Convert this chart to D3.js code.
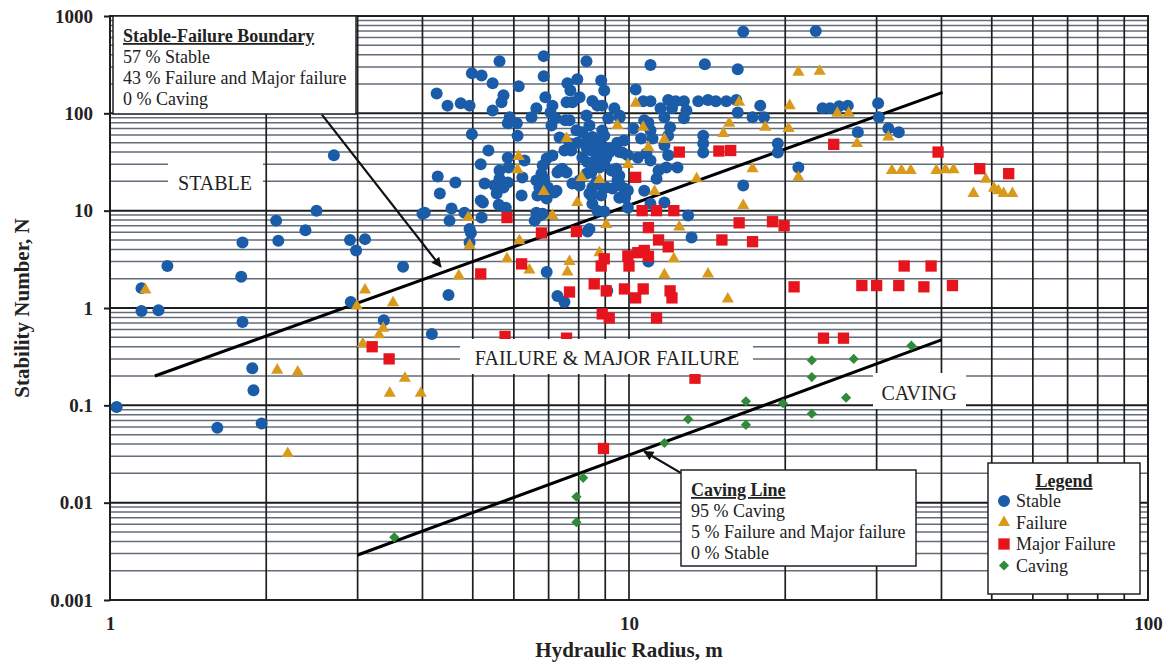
<!DOCTYPE html>
<html>
<head>
<meta charset="utf-8">
<script src="https://cdnjs.cloudflare.com/ajax/libs/d3/7.8.5/d3.min.js"></script>
<style>
  body { margin: 0; background: #fff; }
  svg { display: block; font-family: "Liberation Serif", "Times New Roman", serif; }
</style>
</head>
<body>
<div id="chart"></div>
<script>
// Hydraulic radius (m), stability number N
var stable = [
  [1.03,0.096],[1.15,1.6],[1.29,2.7],[1.15,0.93],[1.24,0.95],[1.61,0.059],[1.8,4.7],[1.79,2.1],
  [1.8,0.72],[1.88,0.24],[1.89,0.143],[1.96,0.065],[2.11,4.9],[2.09,7.9],[2.38,6.3],[2.5,10],
  [2.7,37],[2.9,5.0],[2.98,3.9],[3.1,5.1],[2.91,1.15],[3.37,0.75],[3.67,2.65],[4.17,0.54],
  [4.0,9.3],[4.49,1.36],
  [4.26,160],[4.47,120],[4.74,127],[4.93,120],[4.98,258],[5.2,245],[5.63,343],[5.46,204],
  [6.13,190],[5.73,153],[5.68,130],[5.46,107],[6.85,387],[6.85,240],[6.9,146],[6.63,113],
  [6.49,91],[5.89,91],[5.84,79],[6.08,79],[6.1,59],[4.98,61],[5.36,41.5],[5.18,30],[5.63,25.8],
  [5.84,35],[5.86,27.8],[6.29,32.7],[6.23,21.9],[5.27,19],[5.51,18.1],[5.63,21.3],[5.84,19.5],
  [5.56,15],[5.18,12.7],[5.23,12.1],[5.61,11.5],[5.79,10.7],[6.21,14.3],[4.28,22.4],[4.63,19.5],
  [4.32,15],[4.04,9.5],[4.55,10.5],[4.51,7.9],[4.82,9.5],[4.93,6.5],[5.2,8.5],[5.73,17.3],
  [7.12,120],[7.06,102],[7.22,89],[7.09,75],[7.54,85],[7.68,85],[7.61,204],[7.95,224],[7.71,172],
  [8.03,146],[7.58,130],[7.78,130],[8.28,343],[8.84,218],[8.96,172],[8.5,134],[8.69,120],
  [9.37,113],[9.58,95],[9.12,89],[8.28,95],[8.39,75],[8.13,64],[7.92,67],[8.5,57],[8.77,52.6],
  [8.96,59],[9.49,50],[9.79,52.6],[9.7,39.6],[9.16,43.5],[8.84,39.6],[8.65,34.3],[8.28,44.6],
  [7.95,50],[7.68,49],[7.35,56.6],[6.94,34.3],[6.82,29.1],[7.12,36.9],[7.44,27],[7.58,24.6],
  [7.28,24.6],[6.78,24],[6.63,20.4],[6.72,17.3],[6.98,17.3],[7.18,15.4],[6.66,14.3],[6.94,13.3],
  [7.78,19],[8.03,20.4],[8.28,24],[8.46,24.6],[8.77,27.8],[8.96,30.6],[9.25,25.8],[9.49,24],
  [9.58,19],[9.29,16.9],[9.04,17.3],[8.5,17.3],[8.39,15],[8.5,11.8],[8.84,14.3],[9.58,13.6],
  [9.95,10.7],[8.96,9.8],[8.69,10],[8.39,6.5],[6.63,9.5],[6.82,9.3],[6.58,7.9],
  [6.86,21.3],[6.74,19],[7.03,15.4],[7.25,16],[6.74,8.9],[7.35,25.8],[7.51,41.5],[7.74,41.5],
  [8.13,35.2],[8.32,31.4],[8.5,27],[8.46,41.5],[8.32,52.6],[8.65,50],[9.04,35.2],[9.16,39.6],
  [8.03,18.1],[8.65,19.5],[8.46,14.3],[9.45,27],[9.58,22.9],[9.95,16.1],[9.83,13.6],
  [4.96,5.9],[4.93,4.7],[8.32,6.1],[6.94,2.35],[7.28,1.33],[7.51,1.15],[13.2,5.3],[10.9,3.0],
  [9.08,1.5],
  [16.6,690],[22.9,700],[11.0,313],[14.0,320],[16.2,284],[10.3,176],[10.65,133],[11.0,133],
  [11.9,137],[12.3,133],[12.76,133],[13.6,133],[14.2,137],[14.7,133],[15.4,133],[16.1,137],
  [11.5,113],[12.1,113],[12.9,107],[11.7,91],[12.76,89],[16.2,102],[17.3,91],[17.9,120],
  [18.2,91],[9.6,91],[8.88,120],[8.88,66.7],[10.2,70],[10.7,85],[10.9,80],[11.0,67],[10.55,55],
  [11.1,55],[12.0,72],[11.9,59],[11.7,47],[9.58,40],[9.04,43.5],[8.88,32.7],[9.95,37],[10.4,35],
  [10.8,38.7],[11.0,32.7],[11.9,37],[12.4,27.8],[11.8,27.8],[11.4,25.8],[11.3,21.3],[9.45,24.6],
  [9.5,20.4],[9.58,18.1],[9.8,16.9],[8.88,18.1],[10.7,16],[13.9,59],[13.9,49],[13.9,39.6],
  [19.35,49],[19.35,39.6],[21.2,27.8],[16.6,18.1],[11.7,12.1],[11.0,11.8],[13.0,8.9],
  [23.6,113],[24.4,113],[25.4,118],[26.4,120],[30.2,127],[30.3,91],[31.6,70],[33.1,64],[27.6,64]
];

var failure = [
  [1.17,1.53],[2.1,0.23],[2.3,0.22],[2.2,0.032],[3.1,1.53],[3.51,1.13],[2.99,1.05],[3.36,0.62],
  [3.3,0.53],[3.07,0.43],[3.7,0.19],[3.46,0.133],[3.97,0.133],[4.7,2.14],[4.93,4.4],[6.15,4.9],
  [5.82,3.2],[6.43,2.46],[7.68,3.0],[7.61,2.35],[8.77,3.7],[11.7,2.2],[12.2,3.2],[14.2,2.24],
  [15.5,1.24],[12.5,6.8],[6.13,36],[6.1,26.4],[6.85,15.7],[7.58,55],[8.1,21.9],[8.77,20.9],
  [7.95,12.1],[7.12,8.9],[9.04,7.2],[9.5,75],[9.95,29.8],[10.3,127],[10.65,72],[11.7,54],
  [10.9,44.6],[16.3,130],[15.6,79],[15.2,62],[18.3,72],[20.4,120],[20.3,70],[21.2,265],
  [23.3,271],[25.2,100],[26.5,100],[27.5,49],[31.6,57],[17.3,27],[21.2,22],[16.6,11.3],
  [13.5,21.3],[11.2,15.7],[32.1,25.8],[33.5,25.8],[34.9,25.8],[39.1,25.8],[40.7,26.4],
  [42.2,26.4],[46.1,15],[48.7,21],[51.5,16],[52.7,15],[54.8,15],[50.5,17],[4.9,8.5]
];

var majorFailure = [
  [3.2,0.4],[3.45,0.3],[6.78,5.9],[7.92,6.1],[5.18,2.24],[6.21,2.84],[7.68,1.46],[5.82,8.5],
  [5.77,0.51],[7.58,0.49],[8.96,3.2],[8.84,2.7],[8.57,1.77],[9.04,1.5],[8.88,0.87],[9.16,0.79],
  [9.95,3.43],[10.0,2.7],[10.4,3.7],[10.7,3.9],[10.9,3.4],[9.8,1.57],[10.3,1.27],[10.65,1.57],
  [11.4,5.0],[11.9,4.25],[12.0,1.5],[12.1,1.27],[11.3,0.79],[13.4,0.19],[10.3,22],[10.6,10],
  [11.3,10],[12.2,10],[12.5,40],[14.9,41],[15.7,41.5],[24.8,48],[16.3,7.5],[18.9,7.7],
  [19.9,7.0],[15.1,5.0],[17.3,4.8],[10.9,6.7],[20.8,1.65],[28.1,1.7],[30.0,1.7],[33.1,1.7],
  [37.0,1.65],[42.0,1.7],[33.9,2.7],[38.2,2.7],[23.7,0.49],[25.9,0.49],[8.93,0.036],
  [39.4,40],[47.4,27],[53.9,24]
];

var caving = [
  [3.53,0.0044],[7.92,0.0115],[8.16,0.018],[7.92,0.0063],[11.7,0.041],[13.0,0.072],[16.8,0.11],
  [16.8,0.063],[19.8,0.105],[22.5,0.082],[22.5,0.195],[22.5,0.29],[27.1,0.3],[26.2,0.12],
  [35.0,0.41]
];

// design lines
var boundaryLine = [[1.22, 0.2], [40.2, 164]];
var cavingLine = [[3.0, 0.0029], [40, 0.47]];

// arrow annotations (from, to)
var boundaryArrow = [[2.56, 97], [4.34, 2.65]];
var cavingArrow = [[12.65, 0.0199], [10.7, 0.0336]];

var xTicks = [1, 10, 100];
var xTickLabels = ["1", "10", "100"];
var yTicks = [0.001, 0.01, 0.1, 1, 10, 100, 1000];
var yTickLabels = ["0.001", "0.01", "0.1", "1", "10", "100", "1000"];

var seriesNames = ["Stable", "Failure", "Major Failure", "Caving"];
var seriesColors = ["#1b5ca8", "#d99a1c", "#e6141c", "#2f8b3a"];

var boundaryText = ["57 % Stable", "43 % Failure and Major failure", "0 % Caving"];
var cavingText = ["95 % Caving", "5 % Failure and Major failure", "0 % Stable"];

var svgWidth = 1170;
var svgHeight = 663;

var margin = {
  top: 16,
  right: 22,
  bottom: 63,
  left: 110
};

var width = svgWidth - margin.left - margin.right;
var height = svgHeight - margin.top - margin.bottom;

var svg = d3.select("#chart")
  .append("svg")
  .attr("width", svgWidth)
  .attr("height", svgHeight);

svg.append("rect")
  .attr("width", svgWidth)
  .attr("height", svgHeight)
  .attr("fill", "#fff");

var chartGroup = svg.append("g")
  .attr("transform", `translate(${margin.left}, ${margin.top})`);

var xScale = d3.scaleLog().domain([1, 100]).range([0, width]);
var yScale = d3.scaleLog().domain([0.001, 1000]).range([height, 0]);

function isMajor(v) {
  var l = Math.log10(v);
  return Math.abs(l - Math.round(l)) < 1e-9;
}

// grid
chartGroup.append("g")
  .selectAll("line")
  .data(yScale.ticks())
  .join("line")
  .attr("x1", 0)
  .attr("x2", width)
  .attr("y1", d => yScale(d))
  .attr("y2", d => yScale(d))
  .attr("stroke", d => isMajor(d) ? "#1e1e1e" : "#636d79")
  .attr("stroke-width", d => isMajor(d) ? 2 : 1.5);

chartGroup.append("g")
  .selectAll("line")
  .data(xScale.ticks())
  .join("line")
  .attr("x1", d => xScale(d))
  .attr("x2", d => xScale(d))
  .attr("y1", 0)
  .attr("y2", height)
  .attr("stroke", "#1e1e1e")
  .attr("stroke-width", 1.7);

// region labels with white backing
var regionLabels = [
  {text: "STABLE", box: [168, 160, 95, 38], x: 215, y: 190},
  {text: "FAILURE & MAJOR FAILURE", box: [460, 339, 293, 35], x: 607, y: 365},
  {text: "CAVING", box: [873, 373, 93, 36], x: 919, y: 400}
];
var regionGroup = svg.append("g");
regionGroup.selectAll("rect")
  .data(regionLabels)
  .join("rect")
  .attr("x", d => d.box[0])
  .attr("y", d => d.box[1])
  .attr("width", d => d.box[2])
  .attr("height", d => d.box[3])
  .attr("fill", "#fff");
regionGroup.selectAll("text")
  .data(regionLabels)
  .join("text")
  .attr("x", d => d.x)
  .attr("y", d => d.y)
  .attr("text-anchor", "middle")
  .style("font-size", "20px")
  .attr("fill", "#222")
  .text(d => d.text);

// border
chartGroup.append("rect")
  .attr("width", width)
  .attr("height", height)
  .attr("fill", "none")
  .attr("stroke", "#1e1e1e")
  .attr("stroke-width", 2);

// axes
var leftAxis = d3.axisLeft(yScale)
  .tickValues(yTicks)
  .tickFormat((d, i) => yTickLabels[i])
  .tickSizeInner(6)
  .tickSizeOuter(0)
  .tickPadding(11);

var bottomAxis = d3.axisBottom(xScale)
  .tickValues(xTicks)
  .tickFormat((d, i) => xTickLabels[i])
  .tickSizeInner(0)
  .tickSizeOuter(0)
  .tickPadding(17);

var yAxisG = chartGroup.append("g").call(leftAxis);
var xAxisG = chartGroup.append("g")
  .attr("transform", `translate(0, ${height})`)
  .call(bottomAxis);

[yAxisG, xAxisG].forEach(function(g) {
  g.select(".domain").remove();
  g.selectAll(".tick line").attr("stroke", "#1e1e1e").attr("stroke-width", 2);
  g.selectAll("text")
    .style("font-family", "'Liberation Serif', serif")
    .style("font-size", "19px")
    .style("font-weight", "bold")
    .attr("fill", "#222");
});

svg.append("text")
  .attr("x", margin.left + width / 2)
  .attr("y", 657)
  .attr("text-anchor", "middle")
  .style("font-size", "21px")
  .style("font-weight", "bold")
  .attr("fill", "#222")
  .text("Hydraulic Radius, m");

svg.append("text")
  .attr("transform", "translate(29, 308) rotate(-90)")
  .attr("text-anchor", "middle")
  .style("font-size", "21px")
  .style("font-weight", "bold")
  .attr("fill", "#222")
  .text("Stability Number, N");

// lines
var line = d3.line()
  .x(d => xScale(d[0]))
  .y(d => yScale(d[1]));

chartGroup.append("path")
  .datum(boundaryLine)
  .attr("d", line)
  .attr("fill", "none")
  .attr("stroke", "#000")
  .attr("stroke-width", 3);

chartGroup.append("path")
  .datum(cavingLine)
  .attr("d", line)
  .attr("fill", "none")
  .attr("stroke", "#000")
  .attr("stroke-width", 3);

// markers
var triangle = d3.symbol().type(d3.symbolTriangle).size(64);
var square = d3.symbol().type(d3.symbolSquare).size(128);
var diamond = d3.symbol().type(d3.symbolSquare).size(52);

chartGroup.append("g")
  .selectAll("circle")
  .data(stable)
  .join("circle")
  .attr("cx", d => xScale(d[0]))
  .attr("cy", d => yScale(d[1]))
  .attr("r", 6)
  .attr("fill", seriesColors[0]);

chartGroup.append("g")
  .selectAll("path")
  .data(failure)
  .join("path")
  .attr("d", triangle)
  .attr("transform", d => `translate(${xScale(d[0])}, ${yScale(d[1])})`)
  .attr("fill", seriesColors[1]);

chartGroup.append("g")
  .selectAll("path")
  .data(majorFailure)
  .join("path")
  .attr("d", square)
  .attr("transform", d => `translate(${xScale(d[0])}, ${yScale(d[1])})`)
  .attr("fill", seriesColors[2]);

chartGroup.append("g")
  .selectAll("path")
  .data(caving)
  .join("path")
  .attr("d", diamond)
  .attr("transform", d => `translate(${xScale(d[0])}, ${yScale(d[1])}) rotate(45)`)
  .attr("fill", seriesColors[3]);

// arrows
svg.append("defs").append("marker")
  .attr("id", "arrowhead")
  .attr("viewBox", "0 0 10 10")
  .attr("refX", 9)
  .attr("refY", 5)
  .attr("markerUnits", "userSpaceOnUse")
  .attr("markerWidth", 12)
  .attr("markerHeight", 10)
  .attr("orient", "auto")
  .append("path")
  .attr("d", "M0,0 L10,5 L0,10 z")
  .attr("fill", "#111");

[boundaryArrow, cavingArrow].forEach(function(a) {
  chartGroup.append("path")
    .datum(a)
    .attr("d", line)
    .attr("stroke", "#111")
    .attr("stroke-width", 2.2)
    .attr("fill", "none")
    .attr("marker-end", "url(#arrowhead)");
});

// annotation boxes
function noteBox(x, y, w, h, title, lines) {
  var g = svg.append("g");
  g.append("rect")
    .attr("x", x).attr("y", y)
    .attr("width", w).attr("height", h)
    .attr("fill", "#fff")
    .attr("stroke", "#222")
    .attr("stroke-width", 1.5);
  g.append("text")
    .attr("x", x + 10)
    .attr("y", y + 26)
    .style("font-size", "18px")
    .style("font-weight", "bold")
    .style("text-decoration", "underline")
    .attr("fill", "#222")
    .text(title);
  g.selectAll("text.line")
    .data(lines)
    .join("text")
    .attr("class", "line")
    .attr("x", x + 10)
    .attr("y", (d, i) => y + 47 + i * 21)
    .style("font-size", "18px")
    .attr("fill", "#222")
    .text(d => d);
}

noteBox(113, 16, 243, 98, "Stable-Failure Boundary", boundaryText);
noteBox(681, 470, 235, 96, "Caving Line", cavingText);

// legend
var legend = svg.append("g");
legend.append("rect")
  .attr("x", 988).attr("y", 463)
  .attr("width", 152).attr("height", 131)
  .attr("fill", "#fff")
  .attr("stroke", "#222")
  .attr("stroke-width", 1.5);
legend.append("text")
  .attr("x", 1064).attr("y", 487)
  .attr("text-anchor", "middle")
  .style("font-size", "18px")
  .style("font-weight", "bold")
  .style("text-decoration", "underline")
  .attr("fill", "#222")
  .text("Legend");

var legendItems = legend.selectAll("g.item")
  .data(seriesNames)
  .join("g")
  .attr("class", "item")
  .attr("transform", (d, i) => `translate(1004, ${501 + i * 21.5})`);

legendItems.append("path")
  .attr("d", (d, i) => i === 0 ? d3.symbol().type(d3.symbolCircle).size(113)()
    : i === 1 ? triangle() : i === 2 ? square() : diamond())
  .attr("transform", (d, i) => i === 3 ? "rotate(45)" : null)
  .attr("fill", (d, i) => seriesColors[i]);

legendItems.append("text")
  .attr("x", 12)
  .attr("y", 6)
  .style("font-size", "18px")
  .attr("fill", "#222")
  .text(d => d);
</script>
</body>
</html>
